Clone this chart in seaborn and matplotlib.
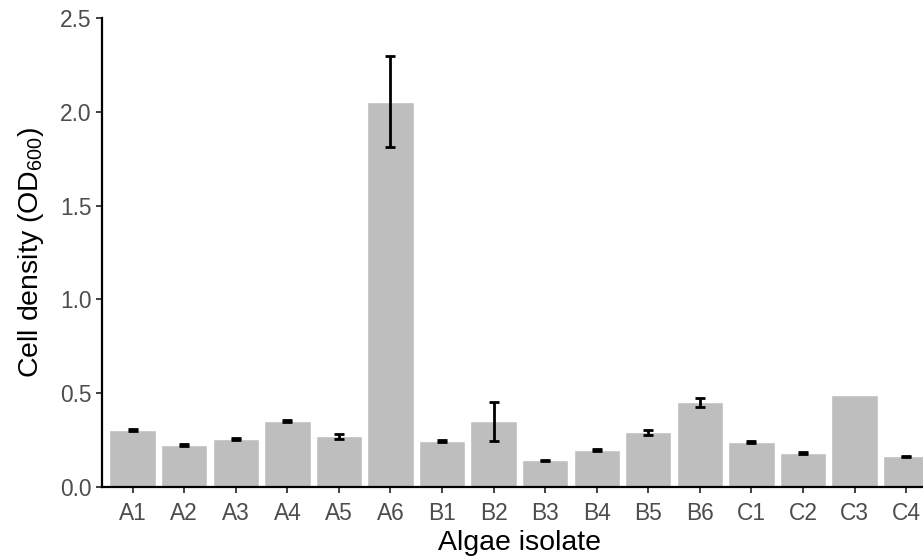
import numpy as np
import seaborn as sns
import matplotlib
matplotlib.use("Agg")
import matplotlib.pyplot as plt

# optical density per algae isolate (mean and error)
isolates = ["A1", "A2", "A3", "A4", "A5", "A6", "B1", "B2",
            "B3", "B4", "B5", "B6", "C1", "C2", "C3", "C4"]
density = [0.305, 0.225, 0.255, 0.350, 0.270, 2.055, 0.245, 0.350,
           0.142, 0.197, 0.292, 0.452, 0.240, 0.183, 0.490, 0.163]
density_err = [0.006, 0.005, 0.006, 0.005, 0.012, 0.240, 0.005, 0.103,
               0.003, 0.005, 0.013, 0.023, 0.004, 0.005, 0.0, 0.005]
y_ticks = [0.0, 0.5, 1.0, 1.5, 2.0, 2.5]

sns.set_style("ticks")
plt.rcParams['font.family'] = ['Liberation Sans', 'DejaVu Sans']
plt.rcParams['mathtext.default'] = 'regular'

fig = plt.figure(figsize=(9.23, 5.58), dpi=100)
# right edge of the panel runs past the figure, as in the reference
ax = fig.add_axes([0.1102, 0.1272, 0.905, 0.8405])

sns.barplot(x=isolates, y=density, color="#BEBEBE", saturation=1,
            width=0.9, errorbar=None, ax=ax)

# error bars, skipping the isolate with no spread
pos = np.arange(len(isolates))
err = np.array(density_err)
keep = err > 0
ax.errorbar(pos[keep], np.array(density)[keep], yerr=err[keep], fmt='none',
            ecolor='black', elinewidth=2.0, capsize=3.6, capthick=2.0, zorder=3)

ax.set_xlim(-0.6, len(isolates) - 0.4)
ax.set_ylim(0, 2.5)
ax.set_yticks(y_ticks)
ax.set_yticklabels([f"{v:.1f}" for v in y_ticks])

ax.set_xlabel("Algae isolate", fontsize=20.5, color='black', labelpad=4)
ax.set_ylabel("Cell density (OD$_{600}$)", fontsize=20.5, color='black', labelpad=10)

ax.tick_params(axis='both', labelsize=16.4, labelcolor='#4D4D4D', color='#333333',
               length=4.5, width=1.3, pad=3)
ax.tick_params(axis='x', pad=6)
for side in ['top', 'right']:
    ax.spines[side].set_visible(False)
for side in ['left', 'bottom']:
    ax.spines[side].set_linewidth(1.6)
    ax.spines[side].set_color('black')

fig.savefig("out.png", dpi=100)
